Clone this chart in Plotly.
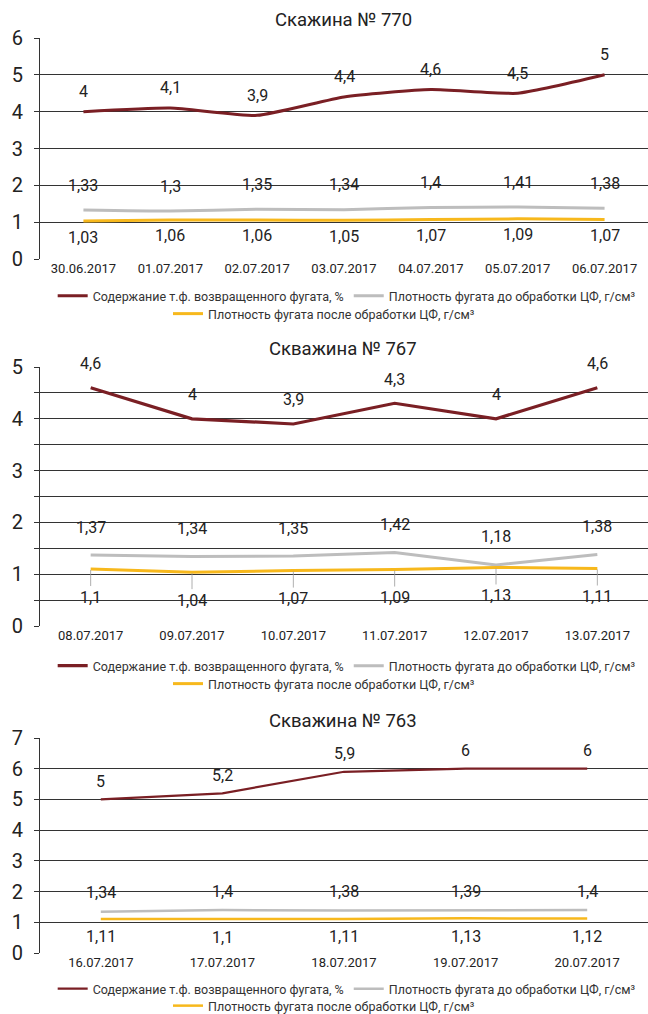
import plotly.graph_objects as go

# ---------------- data ----------------
titles = ["Скажина № 770", "Скважина № 767", "Скважина № 763"]
series_names = [
    "Содержание т.ф. возвращенного фугата, %",
    "Плотность фугата до обработки ЦФ, г/см³",
    "Плотность фугата после обработки ЦФ, г/см³",
]

dates1 = ["30.06.2017", "01.07.2017", "02.07.2017", "03.07.2017", "04.07.2017", "05.07.2017", "06.07.2017"]
solids1 = [4, 4.1, 3.9, 4.4, 4.6, 4.5, 5]
dens_before1 = [1.33, 1.3, 1.35, 1.34, 1.4, 1.41, 1.38]
dens_after1 = [1.03, 1.06, 1.06, 1.05, 1.07, 1.09, 1.07]

dates2 = ["08.07.2017", "09.07.2017", "10.07.2017", "11.07.2017", "12.07.2017", "13.07.2017"]
solids2 = [4.6, 4, 3.9, 4.3, 4, 4.6]
dens_before2 = [1.37, 1.34, 1.35, 1.42, 1.18, 1.38]
dens_after2 = [1.1, 1.04, 1.07, 1.09, 1.13, 1.11]

dates3 = ["16.07.2017", "17.07.2017", "18.07.2017", "19.07.2017", "20.07.2017"]
solids3 = [5, 5.2, 5.9, 6, 6]
dens_before3 = [1.34, 1.4, 1.38, 1.39, 1.4]
dens_after3 = [1.11, 1.1, 1.11, 1.13, 1.12]

y_max = [6, 5, 7]

# ---------------- style ----------------
W, H = 648, 1014
FONT = "Roboto, Arial, sans-serif"
TXT = "#222222"
C_RED = "#7a1f24"
C_GRAY = "#bdbdbd"
C_YEL = "#f7b81c"
GRID = "#333333"

def py(px):
    return 1 - px / H

# pixel layout per chart: (y of value 0, y of top value)
y_pix = [(259, 38), (626, 367), (953, 738)]
title_pix = [20, 349, 721]
legend_pix = [(296, 314), (666, 684), (989, 1006)]
# label offsets (pixels, negative = up): red, gray, yellow
offsets = [(-20, -25, 16), (-24, -28, 28), (-18, -19, 18)]
widths = [(3, 3, 3), (3.2, 3, 3), (2.2, 2.5, 2.5)]
shapes_line = ["spline", "linear", "linear"]

data = [
    (dates1, solids1, dens_before1, dens_after1),
    (dates2, solids2, dens_before2, dens_after2),
    (dates3, solids3, dens_before3, dens_after3),
]

def fmt(v):
    return f"{v:g}".replace(".", ",")

fig = go.Figure()
annotations = []
layout = dict(
    width=W, height=H,
    margin=dict(l=0, r=0, t=0, b=0, autoexpand=False),
    template="none",
    paper_bgcolor="white", plot_bgcolor="white",
    font=dict(family=FONT, color=TXT),
    showlegend=True,
)

x0 = 40 / W
for i, (dates, red, gray, yel) in enumerate(data):
    k = i + 1
    xa = "x" if k == 1 else f"x{k}"
    ya = "y" if k == 1 else f"y{k}"
    lg_a = "legend" if i == 0 else f"legend{2 * i + 1}"
    lg_b = f"legend{2 * i + 2}"
    cols = [C_RED, C_GRAY, C_YEL]
    vals = [red, gray, yel]
    legs = [lg_a, lg_a, lg_b]
    for j in range(3):
        fig.add_trace(go.Scatter(
            x=dates, y=vals[j], mode="lines", name=series_names[j],
            line=dict(color=cols[j], width=widths[i][j], shape=shapes_line[i], smoothing=0.5),
            xaxis=xa, yaxis=ya, legend=legs[j], showlegend=True,
            hoverinfo="skip",
        ))
    # data labels
    for j in range(3):
        for d, v in zip(dates, vals[j]):
            ann = dict(x=d, y=v, xref=xa, yref=ya, text=fmt(v),
                       font=dict(size=16, color=TXT, family=FONT))
            if i == 1 and j == 2:
                ann.update(showarrow=True, ax=0, ay=offsets[i][j], arrowhead=0,
                           arrowwidth=0.8, arrowcolor="#9a9a9a", standoff=1)
            else:
                ann.update(showarrow=False, yshift=-offsets[i][j])
            annotations.append(ann)
    # title
    annotations.append(dict(x=0.53, y=py(title_pix[i]), xref="paper", yref="paper",
                            text=titles[i], showarrow=False,
                            font=dict(size=18.5, color=TXT, family=FONT),
                            xanchor="center", yanchor="middle"))
    yb, yt = y_pix[i]
    layout["xaxis" if k == 1 else f"xaxis{k}"] = dict(
        domain=[x0, 1], anchor=ya, type="category",
        showgrid=False, zeroline=False, showline=False, ticks="",
        tickfont=dict(size=13, color=TXT, family=FONT),
        automargin=False, range=[-0.5, len(dates) - 0.5], fixedrange=True,
    )
    yax = dict(
        domain=[py(yb), py(yt)], anchor=xa, range=[0, y_max[i]],
        dtick=1, tick0=0, showgrid=True, gridcolor=GRID, gridwidth=1,
        zeroline=False, showline=True, linecolor=GRID, linewidth=1,
        ticks="outside", ticklen=5, tickcolor=GRID, tickwidth=1,
        ticklabelstandoff=7,
        tickfont=dict(size=20, color=TXT, family=FONT),
        automargin=False, fixedrange=True,
    )
    if i == 1:
        yax["minor"] = dict(dtick=0.5, showgrid=True, gridcolor=GRID, gridwidth=1,
                            ticks="outside", ticklen=5, tickcolor=GRID)
    layout["yaxis" if k == 1 else f"yaxis{k}"] = yax
    r1, r2 = legend_pix[i]
    legend_common = dict(orientation="h", xanchor="center", yanchor="middle",
                         bgcolor="rgba(0,0,0,0)", itemwidth=30,
                         font=dict(size=12.5, color="#333333", family=FONT),
                         tracegroupgap=0)
    layout[lg_a] = dict(legend_common, x=0.535, y=py(r1))
    layout[lg_b] = dict(legend_common, x=0.5, y=py(r2))

layout["annotations"] = annotations
fig.update_layout(**layout)
fig.write_html("out.html", post_script="document.body.style.margin='0px';",
               config={"displayModeBar": False})
